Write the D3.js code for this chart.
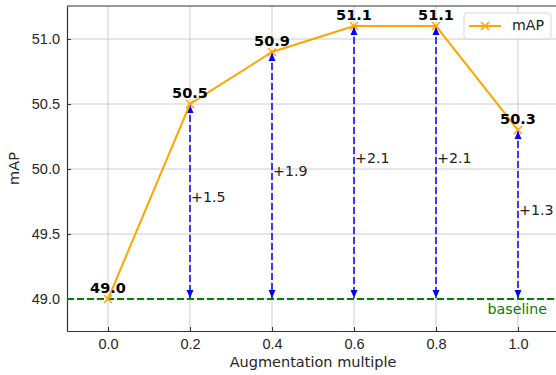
<!DOCTYPE html>
<html lang="en">
<head>
<meta charset="UTF-8">
<title></title>
<style>
    body { margin: 0; background: #fff; }
    svg { display: block; font-family: "DejaVu Sans", sans-serif; }
    .grid line { stroke: #b0b0b0; stroke-width: 0.8px; stroke-opacity: 0.8; }
    .tick-label { font-size: 14.5px; fill: #262626; }
    .axis-title { font-size: 14.5px; fill: #262626; }
    .value-label { font-size: 14.5px; font-weight: bold; text-anchor: middle; }
    .gain-label { font-size: 14.2px; dominant-baseline: middle; fill: #222; }
</style>
</head>
<body>
<script src="https://d3js.org/d3.v7.min.js"></script>
<script>
    const multiples = [0.0, 0.2, 0.4, 0.6, 0.8, 1.0];
    const mapValues = [49.0, 50.5, 50.9, 51.1, 51.1, 50.3];
    const baselineValue = 49.0;
    const xTickValues = [0.0, 0.2, 0.4, 0.6, 0.8, 1.0];
    const yTickValues = [49.0, 49.5, 50.0, 50.5, 51.0];

    const width = 556, height = 375;
    const plotLeft = 67, plotTop = 6, plotBottom = 331, plotRight = 559;

    const x = d3.scaleLinear().domain([-0.1, 1.1]).range([plotLeft, plotRight]);
    const y = d3.scaleLinear().domain([48.754, 51.254]).range([plotBottom, plotTop]);

    const svg = d3.select('body').append('svg')
        .attr('width', width)
        .attr('height', height);

    // grid
    const grid = svg.append('g').attr('class', 'grid');
    grid.selectAll('.gx').data(xTickValues).enter().append('line')
        .attr('x1', d => x(d)).attr('x2', d => x(d))
        .attr('y1', plotTop).attr('y2', plotBottom);
    grid.selectAll('.gy').data(yTickValues).enter().append('line')
        .attr('x1', plotLeft).attr('x2', plotRight)
        .attr('y1', d => y(d)).attr('y2', d => y(d));

    // axes with inward ticks
    const xAxis = svg.append('g')
        .attr('transform', `translate(0, ${plotBottom})`)
        .call(d3.axisBottom(x).tickValues(xTickValues).tickSizeInner(-4).tickSizeOuter(0)
            .tickPadding(8).tickFormat(d3.format('.1f')));
    const yAxis = svg.append('g')
        .attr('transform', `translate(${plotLeft}, 0)`)
        .call(d3.axisLeft(y).tickValues(yTickValues).tickSizeInner(-4).tickSizeOuter(0)
            .tickPadding(7).tickFormat(d3.format('.1f')));
    [xAxis, yAxis].forEach(a => {
        a.select('.domain').attr('stroke', '#333').attr('stroke-width', 1.2);
        a.selectAll('.tick line').attr('stroke', '#333').attr('stroke-width', 1);
        a.selectAll('.tick text').attr('class', 'tick-label')
            .attr('font-family', null).attr('font-size', null).attr('fill', null);
    });
    xAxis.selectAll('.tick text').attr('dy', '0.71em');

    svg.append('line')
        .attr('x1', plotLeft).attr('x2', plotRight)
        .attr('y1', plotTop).attr('y2', plotTop)
        .attr('stroke', '#333').attr('stroke-width', 1.2);

    svg.append('text').attr('class', 'axis-title')
        .attr('x', (plotLeft + plotRight) / 2).attr('y', 367)
        .attr('text-anchor', 'middle')
        .text('Augmentation multiple');
    svg.append('text').attr('class', 'axis-title')
        .attr('transform', `translate(19, ${(plotTop + plotBottom) / 2}) rotate(-90)`)
        .attr('text-anchor', 'middle')
        .text('mAP');

    // arrow marker
    const defs = svg.append('defs');
    defs.append('marker')
        .attr('id', 'head')
        .attr('viewBox', '0 0 8 10')
        .attr('refX', 8).attr('refY', 5)
        .attr('markerWidth', 8).attr('markerHeight', 10)
        .attr('markerUnits', 'userSpaceOnUse')
        .attr('orient', 'auto-start-reverse')
        .append('path')
        .attr('d', 'M0,1.5 L8,5 L0,8.5 Z')
        .attr('fill', '#0000ff');

    const data = multiples.map((m, i) => ({ m, v: mapValues[i] }));
    const gains = data.filter(d => d.v > baselineValue);

    // baseline
    svg.append('line')
        .attr('x1', plotLeft).attr('x2', plotRight)
        .attr('y1', y(baselineValue)).attr('y2', y(baselineValue))
        .attr('stroke', '#008000').attr('stroke-width', 2)
        .attr('stroke-dasharray', '7,3');
    svg.append('text')
        .attr('x', 547).attr('y', y(baselineValue) + 15)
        .attr('text-anchor', 'end')
        .attr('font-size', 14.2).attr('fill', '#008000')
        .text('baseline');

    // gain arrows
    svg.selectAll('.arrow').data(gains).enter().append('line')
        .attr('x1', d => x(d.m)).attr('x2', d => x(d.m))
        .attr('y1', d => y(d.v) + 1).attr('y2', y(baselineValue) - 1)
        .attr('stroke', '#0000ff').attr('stroke-width', 1.5)
        .attr('stroke-dasharray', '7,3')
        .attr('marker-start', 'url(#head)')
        .attr('marker-end', 'url(#head)');

    svg.selectAll('.gain').data(gains).enter().append('text')
        .attr('class', 'gain-label')
        .attr('x', d => x(d.m) + 1)
        .attr('y', d => y((d.v + baselineValue) / 2) - 4)
        .text(d => '+' + (d.v - baselineValue).toFixed(1));

    // mAP line
    const line = d3.line().x(d => x(d.m)).y(d => y(d.v));
    svg.append('path').datum(data)
        .attr('d', line)
        .attr('fill', 'none')
        .attr('stroke', '#ffa500').attr('stroke-width', 2);

    const cross = 'M-4,-4 L4,4 M-4,4 L4,-4';
    svg.selectAll('.pt').data(data).enter().append('path')
        .attr('transform', d => `translate(${x(d.m)}, ${y(d.v)})`)
        .attr('d', cross)
        .attr('stroke', '#ffa500').attr('stroke-width', 1.5)
        .attr('fill', 'none');

    svg.selectAll('.val').data(data).enter().append('text')
        .attr('class', 'value-label')
        .attr('x', d => x(d.m))
        .attr('y', d => y(d.v) - 6.5)
        .text(d => d.v.toFixed(1));

    // legend
    const legend = svg.append('g').attr('transform', 'translate(464, 13)');
    legend.append('rect')
        .attr('width', 87).attr('height', 26).attr('rx', 3)
        .attr('fill', '#fff').attr('fill-opacity', 0.8)
        .attr('stroke', '#d6d6d6');
    legend.append('line')
        .attr('x1', 5).attr('x2', 37).attr('y1', 13).attr('y2', 13)
        .attr('stroke', '#ffa500').attr('stroke-width', 2);
    legend.append('path')
        .attr('transform', 'translate(21, 13)')
        .attr('d', cross)
        .attr('stroke', '#ffa500').attr('stroke-width', 1.5);
    legend.append('text')
        .attr('x', 48).attr('y', 13)
        .attr('dominant-baseline', 'middle')
        .attr('font-size', 14.2).attr('fill', '#222')
        .text('mAP');
</script>
</body>
</html>
